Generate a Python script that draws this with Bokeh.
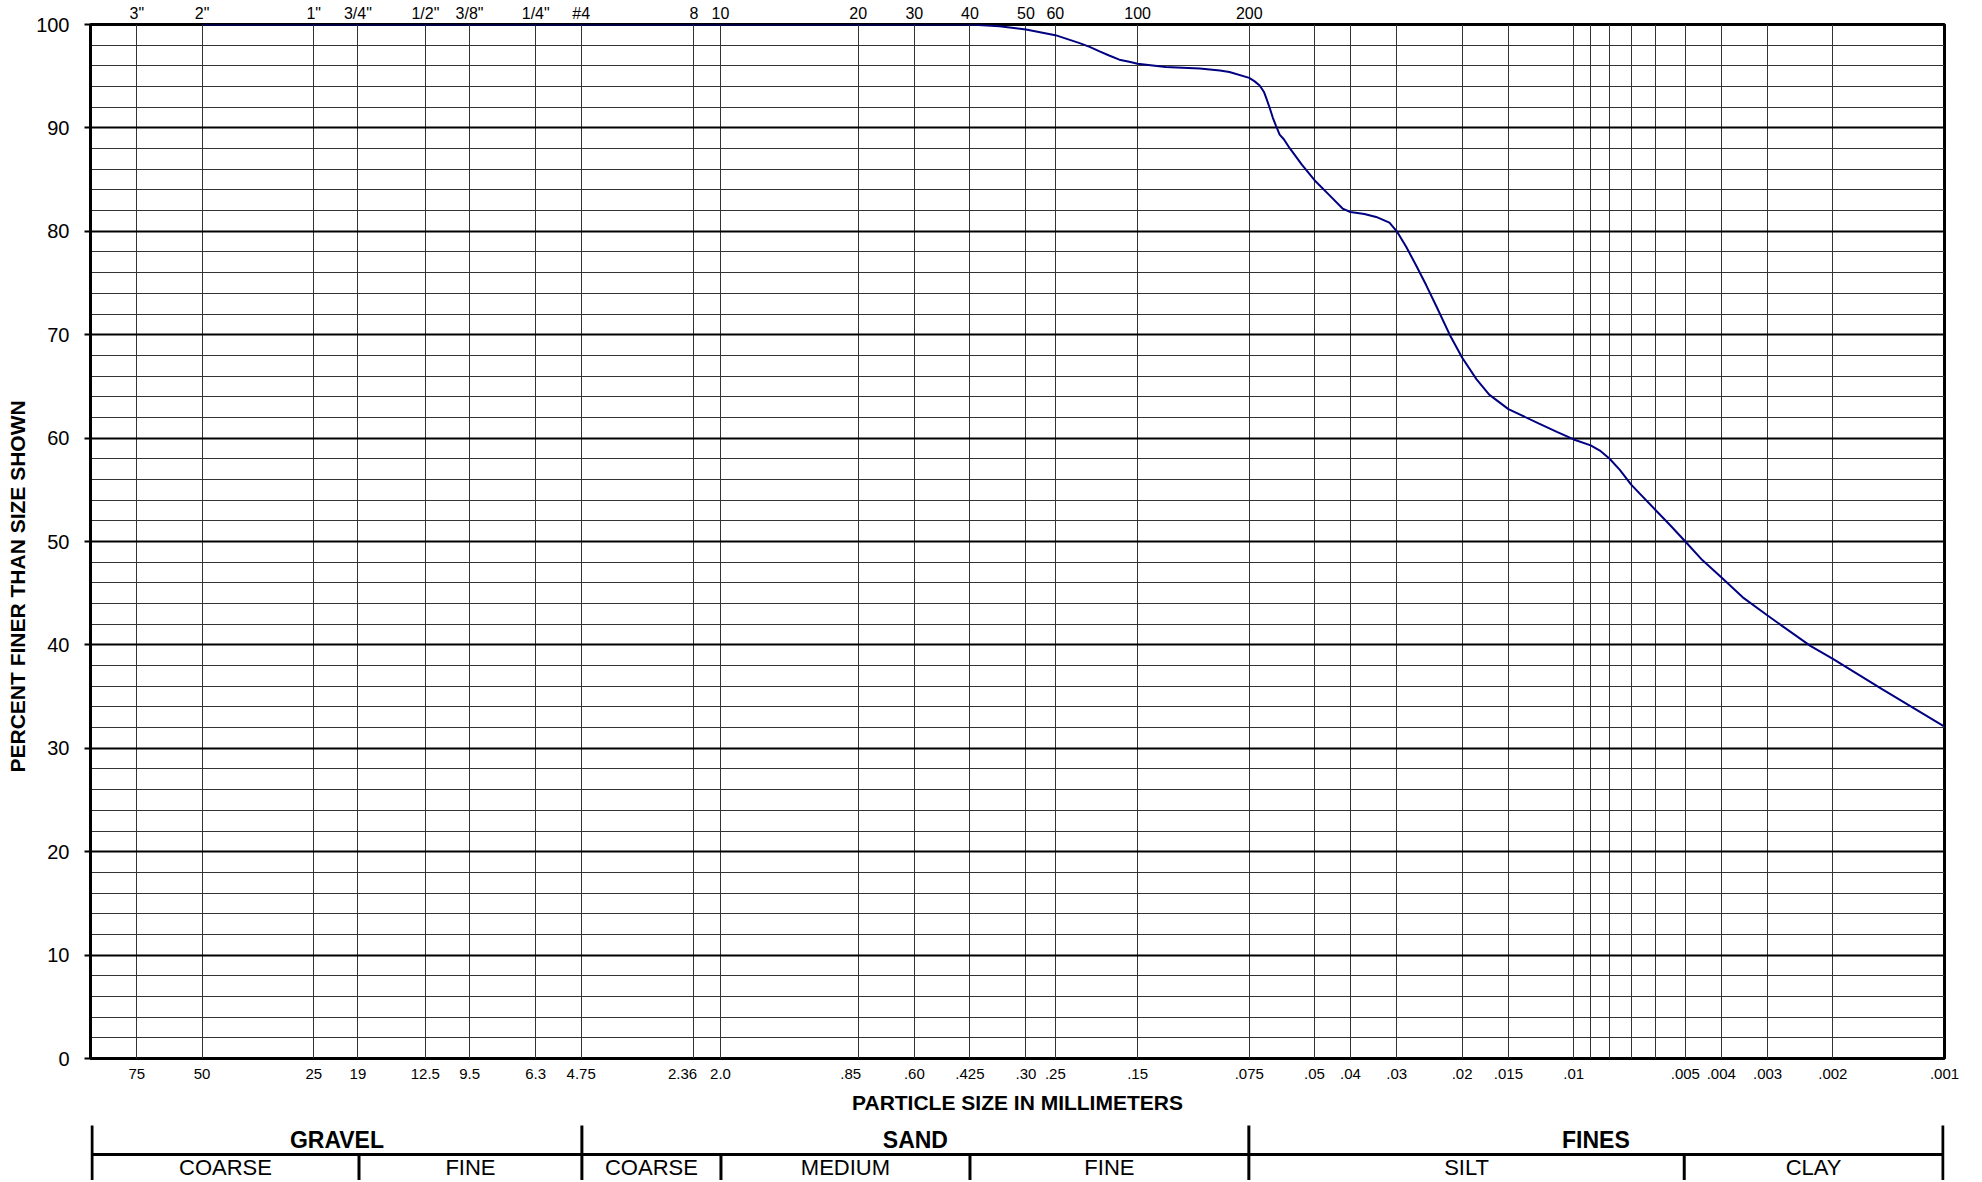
from bokeh.plotting import figure
from bokeh.models import Range1d, FixedTicker, LogAxis, Title
from bokeh.layouts import column
from bokeh.embed import file_html
from bokeh.resources import INLINE
from bokeh.core.properties import value

# ---------------- data ----------------
size_mm = [50, 0.425, 0.354, 0.30, 0.25, 0.215, 0.202, 0.19, 0.179, 0.168,
           0.158, 0.15, 0.126, 0.102, 0.09, 0.0848, 0.075, 0.0725, 0.0703, 0.0685,
           0.0675, 0.066, 0.0648, 0.0635, 0.0621, 0.0605, 0.0584, 0.0541, 0.05, 0.0456,
           0.042, 0.04, 0.0367, 0.0341, 0.0314, 0.03, 0.0283, 0.0266, 0.025, 0.0235,
           0.0216, 0.02, 0.0183, 0.0169, 0.015, 0.0124, 0.0111, 0.01, 0.009, 0.0085,
           0.008, 0.0075, 0.007, 0.006, 0.0055, 0.005, 0.0045, 0.004, 0.0035, 0.003,
           0.0023, 0.002, 0.00147, 0.001]
percent_finer = [100, 100, 99.84, 99.52, 98.97, 98.2, 97.84, 97.4, 97.0, 96.6,
                 96.4, 96.2, 95.9, 95.74, 95.55, 95.4, 94.84, 94.5, 94.1, 93.5,
                 92.9, 91.9, 91.0, 90.2, 89.35, 88.9, 88.06, 86.45, 84.94, 83.5,
                 82.2, 81.87, 81.68, 81.39, 80.84, 80.0, 78.5, 76.7, 74.8, 72.8,
                 70.0, 67.8, 65.7, 64.2, 62.8, 61.4, 60.6, 59.87, 59.3, 58.8,
                 58.0, 56.9, 55.5, 53.0, 51.6, 50.0, 48.2, 46.55, 44.6, 42.84,
                 39.9, 38.65, 35.7, 32.1]

grid_sizes = [75, 50, 25, 19, 12.5, 9.5, 6.3, 4.75, 2.36, 2.0, 0.85, 0.60, 0.425,
              0.30, 0.25, 0.15, 0.075, 0.05, 0.04, 0.03, 0.02, 0.015, 0.01,
              0.009, 0.008, 0.007, 0.006, 0.005, 0.004, 0.003, 0.002]

mm_ticks = [75, 50, 25, 19, 12.5, 9.5, 6.3, 4.75, 2.36, 2.0, 0.85, 0.60, 0.425,
            0.30, 0.25, 0.15, 0.075, 0.05, 0.04, 0.03, 0.02, 0.015, 0.01,
            0.005, 0.004, 0.003, 0.002, 0.001]
mm_labels = ["75", "50", "25", "19", "12.5", "9.5", "6.3", "4.75",
             "2.36\u2003\u2002", "2.0",
             ".85\u2002\u2002", ".60", ".425", ".30", ".25", ".15", ".075", ".05", ".04", ".03",
             ".02", ".015", ".01", ".005", ".004", ".003", ".002", ".001"]

sieve_ticks = [75, 50, 25, 19, 12.5, 9.5, 6.3, 4.75, 2.36, 2.0, 0.85, 0.60, 0.425,
               0.30, 0.25, 0.15, 0.075]
sieve_labels = ['3"', '2"', '1"', '3/4"', '1/2"', '3/8"', '1/4"', '#4', '8', '10',
                '20', '30', '40', '50', '60', '100', '200']

y_major = [0, 10, 20, 30, 40, 50, 60, 70, 80, 90, 100]
y_minor = [v for v in range(0, 101, 2) if v % 10 != 0]

group_names = ["GRAVEL", "SAND", "FINES"]
group_bounds = [100, 4.75, 0.075, 0.001]
sub_names = ["COARSE", "FINE", "COARSE", "MEDIUM", "FINE", "SILT", "CLAY"]
sub_bounds = [100, 19, 4.75, 2.0, 0.425, 0.075, 0.005, 0.001]

X_MAX, X_MIN = 100, 0.001

# ---------------- layout ----------------
FONT = "Liberation Sans"
W = 1966
L, R, T, B = 90, 22, 24, 59
FRAME_H = 1034
H_MAIN = T + FRAME_H + B
H_TABLE = 63

p = figure(width=W, height=H_MAIN, x_axis_type="log",
           x_range=Range1d(X_MAX, X_MIN), y_range=Range1d(0, 100),
           output_backend="svg", toolbar_location=None,
           min_border_left=L, min_border_right=R, min_border_top=T, min_border_bottom=B)
p.outline_line_color = "black"
p.outline_line_width = 3
p.background_fill_color = "white"
p.border_fill_color = "white"

# grids
p.xgrid.ticker = FixedTicker(ticks=grid_sizes)
p.xgrid.grid_line_color = "#333333"
p.xgrid.grid_line_width = 1
p.ygrid.ticker = FixedTicker(ticks=y_major, minor_ticks=y_minor)
p.ygrid.grid_line_color = "black"
p.ygrid.grid_line_width = 2
p.ygrid.minor_grid_line_color = "#333333"
p.ygrid.minor_grid_line_width = 1

# bottom axis (mm)
xa = p.xaxis[0]
xa.ticker = FixedTicker(ticks=mm_ticks)
xa.major_label_overrides = dict(zip(mm_ticks, mm_labels))
xa.major_tick_out = 0
xa.major_tick_in = 0
xa.minor_tick_out = 0
xa.minor_tick_in = 0
xa.axis_line_color = None
xa.major_label_standoff = 6
xa.major_label_text_font = FONT
xa.major_label_text_font_size = "15px"
xa.major_label_text_color = "black"
xa.axis_label = "PARTICLE SIZE IN MILLIMETERS"
xa.axis_label_text_font = FONT
xa.axis_label_text_font_style = "bold"
xa.axis_label_text_font_size = "21px"
xa.axis_label_text_color = "black"
xa.axis_label_standoff = 6

# left axis
ya = p.yaxis[0]
ya.ticker = FixedTicker(ticks=y_major)
ya.major_tick_out = 6
ya.major_tick_in = 0
ya.major_tick_line_width = 2
ya.major_tick_line_color = "black"
ya.minor_tick_out = 0
ya.minor_tick_in = 0
ya.axis_line_color = "black"
ya.axis_line_width = 3
ya.major_label_standoff = 15
ya.major_label_text_font = FONT
ya.major_label_text_font_size = "20px"
ya.major_label_text_color = "black"

# left title (placed lower than centre, as in the original sheet)
ytitle = Title(text="PERCENT FINER THAN SIZE SHOWN", align="left", offset=286,
               vertical_align="middle", standoff=7,
               text_font=FONT, text_font_style="bold", text_font_size="21px",
               text_color="black")
p.add_layout(ytitle, "left")

# top axis (sieve numbers)
top = LogAxis(ticker=FixedTicker(ticks=sieve_ticks),
              major_label_overrides=dict(zip(sieve_ticks, sieve_labels)),
              major_tick_out=0, major_tick_in=0, minor_tick_out=0, minor_tick_in=0,
              axis_line_color=None, major_label_standoff=3,
              major_label_text_font=FONT, major_label_text_font_size="16px",
              major_label_text_color="black")
p.add_layout(top, "above")

p.line(size_mm, percent_finer, line_color="#000080", line_width=2)

# ---------------- classification table ----------------
# the column layout aligns this frame with the chart frame above; the log range
# is widened by 1.5 px each side so the outer border lines are not clipped
px_per_decade = (W - L - R) / 5.0
pad = 1.5 / px_per_decade
t = figure(width=W, height=H_TABLE, x_axis_type="log",
           x_axis_location=None, y_axis_location=None,
           x_range=Range1d(X_MAX * 10 ** pad, X_MIN / 10 ** pad),
           y_range=Range1d(H_TABLE, 0),
           output_backend="svg", toolbar_location=None,
           min_border_left=L, min_border_right=R,
           min_border_top=0, min_border_bottom=0)
t.outline_line_color = None
t.background_fill_color = "white"
t.border_fill_color = "white"
t.xgrid.visible = False
t.ygrid.visible = False

Y_TOP, Y_HEAD, Y_MID, Y_SUB, Y_BOT = 8, 22, 37, 50, H_TABLE

# group dividers
t.segment(x0=group_bounds, y0=[Y_TOP] * len(group_bounds),
          x1=group_bounds, y1=[Y_BOT] * len(group_bounds),
          line_color="black", line_width=3)
# sub dividers
inner = [b for b in sub_bounds if b not in group_bounds]
t.segment(x0=inner, y0=[Y_MID] * len(inner), x1=inner, y1=[Y_BOT] * len(inner),
          line_color="black", line_width=3)
# horizontal separator
t.segment(x0=[group_bounds[0]], y0=[Y_MID], x1=[group_bounds[-1]], y1=[Y_MID],
          line_color="black", line_width=3)

g_centers = [(group_bounds[i] * group_bounds[i + 1]) ** 0.5 for i in range(len(group_names))]
s_centers = [(sub_bounds[i] * sub_bounds[i + 1]) ** 0.5 for i in range(len(sub_names))]

t.text(x=g_centers, y=[Y_HEAD] * len(g_centers), text=group_names,
       text_align="center", text_baseline="middle", text_color="black",
       text_font=value(FONT), text_font_style="bold", text_font_size="23px")
t.text(x=s_centers, y=[Y_SUB] * len(s_centers), text=sub_names,
       text_align="center", text_baseline="middle", text_color="black",
       text_font=value(FONT), text_font_size="22px")

layout = column(p, t, spacing=0)
open("out.html", "w").write(file_html(layout, INLINE))
